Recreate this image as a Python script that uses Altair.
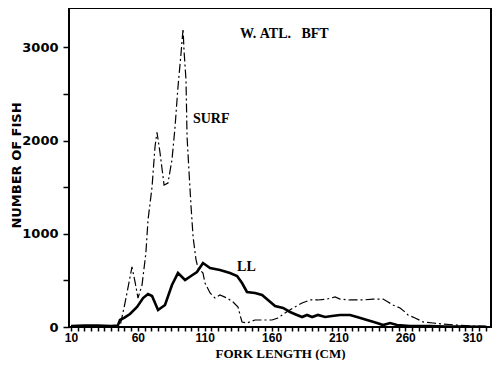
import altair as alt
import pandas as pd

# SURF series (fork length cm, number of fish)
surf_x = [10, 15, 20, 25, 30, 35, 40, 45, 47, 50.4, 55.6, 57.9, 60.1, 63.1, 66, 67.6, 70.6, 72.8, 74.3,
          76.6, 79.6, 82.5, 85.5, 87.8, 90, 92.3, 93.8, 94.5, 96, 96.8, 98.3, 99.8, 101.3, 103.5, 105,
          108.7, 110.2, 114, 117.7, 121.4, 126.7, 131.2, 134.9, 136.4, 137.9, 141.6, 147.6, 155.1, 160.3,
          164.8, 170, 176, 182.8, 188.8, 194.7, 201.5, 207.5, 211.2, 218.7, 228.4, 235.9, 243.4, 247.1,
          250.8, 256.1, 259.8, 262, 267.3, 273.3, 280.8, 288.2, 298.7, 308.4, 323.4]
surf_y = [0, 5, 10, 15, 10, 15, 10, 5, 30, 258, 644, 483, 311, 450, 794, 1148, 1502, 1931, 2090,
          1867, 1524, 1545, 1792, 2146, 2575, 2940, 3200, 2972, 2650, 2039, 1652, 1288, 966, 719, 633,
          579, 472, 365, 311, 343, 311, 268, 215, 129, 54, 43, 75, 75, 75,
          97, 150, 204, 258, 290, 290, 300, 322, 300, 290, 290, 300, 300, 268,
          236, 204, 161, 129, 97, 54, 43, 32, 21, 11, 5]

# LL series
ll_x = [10, 20, 30, 40, 45, 46.6, 50, 54.1, 59.4, 63.9, 67.6, 70.6, 75.1, 80.3, 85.5, 90, 95.3, 100,
        104.2, 108.7, 114, 121.4, 128.9, 134.2, 137.9, 141.6, 147.6, 152.9, 157.3, 162.6, 168.6, 173.8,
        179, 182.8, 186.5, 190.3, 194.7, 200, 205.2, 211.2, 218.7, 223.9, 231.4, 238.9, 243.4, 248.6,
        253.8, 263.6, 278.5, 290, 300, 320]
ll_y = [10, 15, 15, 10, 15, 75, 100, 140, 215, 311, 354, 333, 182, 236, 451, 579, 504, 550,
        590, 687, 633, 611, 579, 547, 472, 376, 365, 343, 290, 225, 204, 161,
        129, 107, 129, 107, 129, 107, 118, 129, 129, 107, 75, 43, 21, 43,
        21, 11, 11, 5, 5, 3]

x_ticks = list(range(10, 325, 5))
x_labels = [10, 60, 110, 160, 210, 260, 310]
y_ticks = [0, 500, 1000, 1500, 2000, 2500, 3000]
y_labels = [0, 1000, 2000, 3000]

label_text = ["W.\u00a0ATL.\u00a0\u00a0\u00a0BFT", "SURF", "LL"]
label_x = [136.4, 101.2, 134.2]
label_y = [3140, 2237, 640]

surf_df = pd.DataFrame({"x": surf_x, "y": surf_y})
ll_df = pd.DataFrame({"x": ll_x, "y": ll_y})
lab_df = pd.DataFrame({"x": label_x, "y": label_y, "t": label_text})

xscale = alt.Scale(domain=[8.5, 324.1], nice=False, zero=False)
yscale = alt.Scale(domain=[0, 3423], nice=False)

xlab_expr = "indexof(" + str(x_labels) + ", datum.value) >= 0 ? datum.label : ''"
ylab_expr = "indexof(" + str(y_labels) + ", datum.value) >= 0 ? datum.label : ''"

xaxis = alt.Axis(values=x_ticks, labelExpr=xlab_expr,
                 title="FORK LENGTH (CM)", grid=False, domain=False, ticks=True,
                 labelOverlap=False, labelBound=False,
                 tickColor="black", tickSize=4, tickWidth=1.5, tickOpacity=1,
                 labelFont="Liberation Sans", labelFontSize=12, labelFontWeight="bold",
                 labelColor="black", labelPadding=1, labelFlush=False,
                 titleFont="Liberation Serif", titleFontSize=13, titleFontWeight="bold",
                 titleColor="black", titleY=26, titleBaseline="middle")
yaxis = alt.Axis(values=y_ticks, labelExpr=ylab_expr, format="d",
                 title="NUMBER OF FISH", grid=False, domain=False, ticks=True,
                 labelOverlap=False, labelBound=False,
                 tickColor="black", tickSize=6, tickWidth=1.5, tickOpacity=1,
                 labelFont="DejaVu Sans", labelFontSize=13, labelFontWeight="bold",
                 labelColor="black", labelPadding=5, labelFlush=False,
                 titleFont="DejaVu Sans", titleFontSize=13, titleFontWeight="bold",
                 titleColor="black", titleX=-53, titleY=157, titleBaseline="middle",
                 titleAlign="center", titleAngle=270)

X = alt.X("x:Q", scale=xscale, axis=xaxis)
Y = alt.Y("y:Q", scale=yscale, axis=yaxis)

surf = alt.Chart(surf_df).mark_line(color="black", strokeWidth=1.2,
                                    strokeDash=[9, 3, 2, 3], clip=True).encode(x=X, y=Y)
ll = alt.Chart(ll_df).mark_line(color="black", strokeWidth=2.6, clip=True).encode(x=X, y=Y)
labels = alt.Chart(lab_df).mark_text(font="Liberation Serif", fontSize=14, fontWeight="bold",
                                      color="black", align="left", baseline="middle").encode(
    x=X, y=Y, text="t:N")

chart = alt.layer(surf, ll, labels).properties(
    width=422, height=319,
    autosize=alt.AutoSizeParams(type="none"),
    padding={"left": 61, "top": 0, "right": 1, "bottom": 33},
    background="white",
).configure_view(stroke="black", strokeWidth=2).configure_axis(
    ticks=True, tickColor="black", labelOverlap=False)

chart.save("out.html", embed_options={"renderer": "svg", "actions": False})
